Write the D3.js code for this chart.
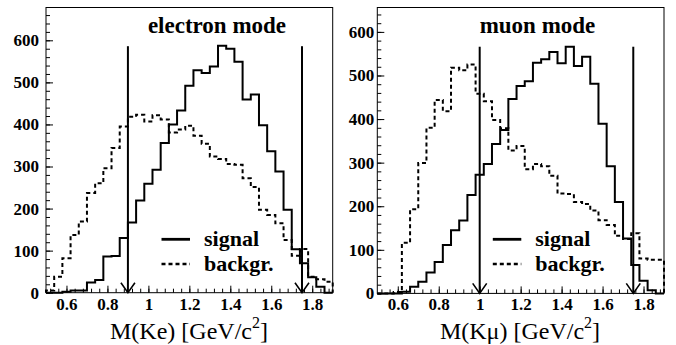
<html lang="en">
<head>
  <meta http-equiv="Content-Type" content="text/html; charset=utf-8" />
  <script src="https://d3js.org/d3.v7.min.js"></script>
  <style>
    body { margin: 0; background: white; }
  </style>
</head>
<body>
  <div id="chart"></div>
  <script>
    'use strict';
    // histogram binning (lower edge of first bin, bin width)
    const binStart = 0.5;
    const binWidth = 0.04;

    // electron mode
    const eSignal = [0, 0, 2, 5, 5, 24, 30, 86, 87, 130, 167, 219, 259, 292, 356, 400, 433, 492,
      529, 522, 538, 587, 580, 549, 459, 471, 398, 336, 288, 197, 103, 70, 37, 14, 0];
    const eBackgr = [5, 38, 82, 137, 169, 237, 260, 296, 344, 395, 418, 423, 407, 422, 412, 381, 388, 397,
      373, 354, 324, 318, 306, 304, 272, 251, 197, 185, 165, 125, 88, 104, 38, 32, 26];

    // muon mode
    const muSignal = [0, 0, 0, 4, 15, 27, 48, 72, 111, 145, 167, 226, 272, 297, 343, 375, 446, 476,
      487, 529, 537, 554, 528, 566, 522, 543, 481, 389, 292, 210, 126, 65, 29, 7, 0];
    const muBackgr = [0, 0, 3, 116, 193, 299, 380, 444, 418, 518, 512, 525, 458, 441, 398, 379, 328, 338,
      285, 297, 292, 270, 229, 228, 210, 205, 190, 168, 157, 132, 125, 138, 80, 77, 77];

    const xTicks = [0.6, 0.8, 1, 1.2, 1.4, 1.6, 1.8];
    const yTicks = [0, 100, 200, 300, 400, 500, 600];
    const titles = ["electron mode", "muon mode"];
    const axisNames = ["M(Ke) [GeV/c", "M(K\u03bc) [GeV/c"];
    const cutLow = [0.9, 1.0];
    const cutHigh = [1.75, 1.75];
    const arrowTop = [586, 566];
    const yMax = [678, 656];
    const legendLabels = ["signal", "backgr."];

    const serif = '"Liberation Serif", "DejaVu Serif", serif';
    const width = 676, height = 345;
    const svg = d3.select("#chart").append("svg")
      .attr("width", width).attr("height", height);

    const panels = [
      {x0: 46, x1: 332.7, y0: 7.5, y1: 292.7, pad: 7, titleX: 217, nameX: 189,
       signal: eSignal, backgr: eBackgr},
      {x0: 377.3, x1: 664, y0: 7.5, y1: 293.4, pad: 3, titleX: 537.5, nameX: 520,
       signal: muSignal, backgr: muBackgr}
    ];

    const histPath = (vals, x, y) => {
      const pts = [[binStart, 0]];
      vals.forEach((v, i) => {
        pts.push([binStart + i * binWidth, v]);
        pts.push([binStart + (i + 1) * binWidth, v]);
      });
      pts.push([binStart + vals.length * binWidth, 0]);
      return d3.line().x(d => x(d[0])).y(d => y(d[1]))(pts);
    };

    panels.forEach((p, k) => {
      const x = d3.scaleLinear().domain([0.5, 1.9]).range([p.x0, p.x1]);
      const y = d3.scaleLinear().domain([0, yMax[k]]).range([p.y1, p.y0]);
      const g = svg.append("g");

      // minor ticks
      const yMinor = d3.range(0, yMax[k], 20);
      const xMinor = d3.range(0.52, 1.9, 0.04);
      g.append("g").attr("transform", `translate(${p.x0},0)`)
        .call(d3.axisLeft(y).tickValues(yMinor).tickSize(-4).tickFormat(""))
        .call(a => a.select(".domain").remove());
      g.append("g").attr("transform", `translate(0,${p.y1})`)
        .call(d3.axisBottom(x).tickValues(xMinor).tickSize(-4).tickFormat(""))
        .call(a => a.select(".domain").remove());

      // major ticks + labels
      const ya = g.append("g").attr("transform", `translate(${p.x0},0)`)
        .call(d3.axisLeft(y).tickValues(yTicks).tickSize(-7).tickPadding(p.pad).tickFormat(d3.format("d")));
      ya.select(".domain").remove();
      const xa = g.append("g").attr("transform", `translate(0,${p.y1})`)
        .call(d3.axisBottom(x).tickValues(xTicks).tickSize(-7).tickPadding(5).tickFormat(d => String(d)));
      xa.select(".domain").remove();
      g.selectAll(".tick text")
        .style("font-family", serif)
        .style("font-weight", "bold")
        .style("font-size", "17px")
        .attr("fill", "black");
      g.selectAll(".tick line").attr("stroke", "black").attr("stroke-width", 1);

      // frame
      g.append("rect")
        .attr("x", p.x0).attr("y", p.y0)
        .attr("width", p.x1 - p.x0).attr("height", p.y1 - p.y0)
        .attr("fill", "none").attr("stroke", "black").attr("stroke-width", 1);

      // histograms
      g.append("path").attr("d", histPath(p.backgr, x, y))
        .attr("fill", "none").attr("stroke", "black").attr("stroke-width", 2)
        .attr("stroke-dasharray", "4,3");
      g.append("path").attr("d", histPath(p.signal, x, y))
        .attr("fill", "none").attr("stroke", "black").attr("stroke-width", 2);

      // cut arrows
      [cutLow[k], cutHigh[k]].forEach(c => {
        const cx = x(c), by = y(0);
        g.append("line").attr("x1", cx).attr("x2", cx)
          .attr("y1", y(arrowTop[k])).attr("y2", by)
          .attr("stroke", "black").attr("stroke-width", 2);
        g.append("path")
          .attr("d", `M${cx - 7},${by - 10} L${cx},${by} L${cx + 7},${by - 10}`)
          .attr("fill", "none").attr("stroke", "black").attr("stroke-width", 1.6);
      });

      // title
      g.append("text").attr("x", p.titleX).attr("y", 33)
        .attr("text-anchor", "middle")
        .style("font-family", serif).style("font-weight", "bold").style("font-size", "23px")
        .text(titles[k]);

      // axis name
      const t = g.append("text").attr("x", p.nameX).attr("y", 339)
        .attr("text-anchor", "middle")
        .style("font-family", serif).style("font-size", "24px");
      t.append("tspan").text(axisNames[k]);
      t.append("tspan").style("font-size", "16px").attr("dy", -11).text("2");
      t.append("tspan").attr("dy", 11).text("]");

      // legend
      const lx = p.x0 + 115.5;
      g.append("line").attr("x1", lx).attr("x2", lx + 28.5).attr("y1", 239.3).attr("y2", 239.3)
        .attr("stroke", "black").attr("stroke-width", 2.8);
      g.append("line").attr("x1", lx).attr("x2", lx + 28.5).attr("y1", 264).attr("y2", 264)
        .attr("stroke", "black").attr("stroke-width", 2.5).attr("stroke-dasharray", "4,3");
      legendLabels.forEach((lab, i) => {
        g.append("text").attr("x", p.x0 + 158).attr("y", 246 + i * 24.5)
          .style("font-family", serif).style("font-weight", "bold").style("font-size", "22px")
          .text(lab);
      });
    });
  </script>
</body>
</html>
